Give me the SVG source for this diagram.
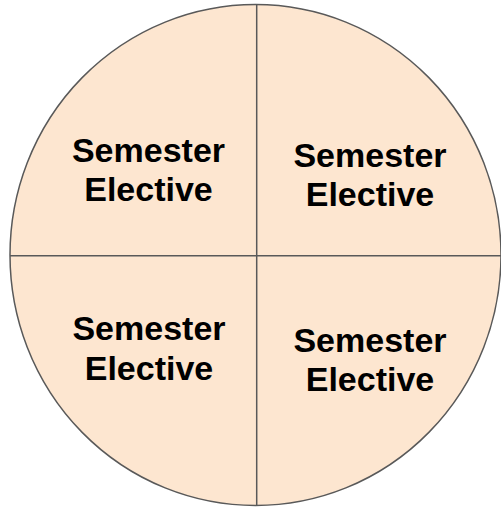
<svg xmlns="http://www.w3.org/2000/svg" width="501" height="507" viewBox="0 0 501 507">
<style>
.t{font-family:"Liberation Sans",Arial,sans-serif;font-weight:bold;font-size:34px;fill:#000;text-anchor:middle}
.ln{stroke:#595959;stroke-width:1.5;fill:none}
</style>
<g id="circle">
<ellipse cx="255.5" cy="255" rx="245.5" ry="250.5" fill="#fde6d0" stroke="#595959" stroke-width="1.5"/>
</g>
<g id="connectors">
<line class="ln" x1="256.7" y1="4.5" x2="256.7" y2="505.5"/>
<line class="ln" x1="10" y1="255.7" x2="501" y2="255.7"/>
</g>
<g id="q1"><text class="t" x="148.5" y="161.5">Semester</text><text class="t" x="148.5" y="200.5">Elective</text></g>
<g id="q2"><text class="t" x="370" y="167">Semester</text><text class="t" x="370" y="206">Elective</text></g>
<g id="q3"><text class="t" x="149" y="340">Semester</text><text class="t" x="149" y="380">Elective</text></g>
<g id="q4"><text class="t" x="370" y="351.5">Semester</text><text class="t" x="370" y="391">Elective</text></g>
</svg>
